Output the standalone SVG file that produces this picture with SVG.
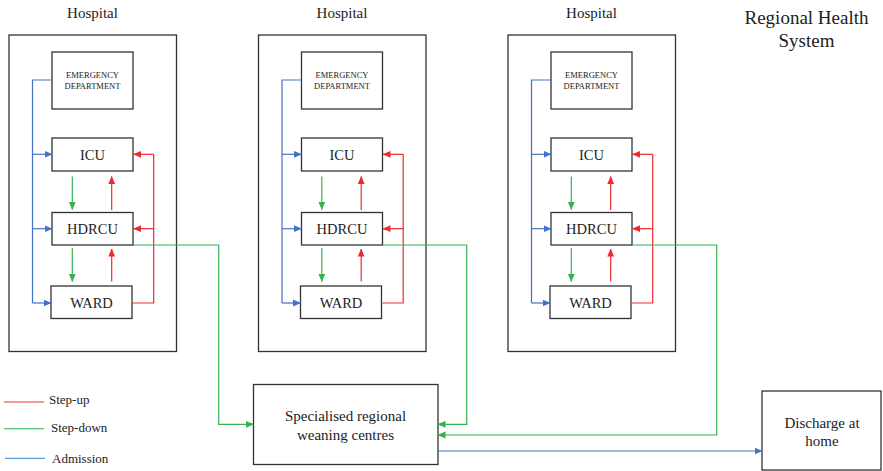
<svg xmlns="http://www.w3.org/2000/svg" width="883" height="471" viewBox="0 0 883 471">
  <style>
    .box { fill: #fff; stroke: #333; stroke-width: 1.3; }
    .frame { fill: none; stroke: #333; stroke-width: 1.3; }
    .t { font-family: "Liberation Serif", "Times New Roman", serif; fill: #222; text-anchor: middle; }
    .unit { font-size: 14.5px; }
    .ed { font-size: 8.5px; }
    .lg { font-family: "Liberation Serif", "Times New Roman", serif; fill: #222; font-size: 13px; }
    .up { fill: none; stroke: #ee2a2e; stroke-width: 1.2; }
    .down { fill: none; stroke: #34b24f; stroke-width: 1.2; }
    .adm { fill: none; stroke: #4472c4; stroke-width: 1.2; }
    .up-a { marker-end: url(#mUp); }
    .down-a { marker-end: url(#mDown); }
    .adm-a { marker-end: url(#mAdm); }
  </style>
  <defs>
    <marker id="mUp" markerUnits="userSpaceOnUse" markerWidth="8" markerHeight="8" viewBox="0 0 8 8" refX="7.5" refY="4" orient="auto">
      <path d="M0,0.6 L8,4 L0,7.4 Z" fill="#ee2a2e"/>
    </marker>
    <marker id="mDown" markerUnits="userSpaceOnUse" markerWidth="8" markerHeight="8" viewBox="0 0 8 8" refX="7.5" refY="4" orient="auto">
      <path d="M0,0.6 L8,4 L0,7.4 Z" fill="#34b24f"/>
    </marker>
    <marker id="mAdm" markerUnits="userSpaceOnUse" markerWidth="8" markerHeight="8" viewBox="0 0 8 8" refX="7.5" refY="4" orient="auto">
      <path d="M0,0.6 L8,4 L0,7.4 Z" fill="#4472c4"/>
    </marker>

    <!-- one hospital: frame, units and internal flows -->
    <g id="hospitalTpl">
      <text class="t" x="92.5" y="18" font-size="15">Hospital</text>
      <rect class="frame" x="9" y="35" width="167.5" height="316.5"/>
      <rect class="box" x="52" y="52" width="81" height="57"/>
      <text class="t ed" x="92.5" y="77.5">EMERGENCY</text>
      <text class="t ed" x="92.5" y="89">DEPARTMENT</text>
      <rect class="box" x="52" y="138" width="81" height="33"/>
      <text class="t unit" x="92.5" y="160">ICU</text>
      <rect class="box" x="52" y="212.5" width="81" height="32.5"/>
      <text class="t unit" x="92.5" y="234">HDRCU</text>
      <rect class="box" x="51" y="286" width="81" height="32.5"/>
      <text class="t unit" x="91.5" y="308">WARD</text>
      <!-- admission from ED -->
      <path class="adm" d="M52,80 H32.5 V303"/>
      <path class="adm adm-a" d="M32.5,154.3 H52"/>
      <path class="adm adm-a" d="M32.5,228.7 H52"/>
      <path class="adm adm-a" d="M32.5,303 H51"/>
      <!-- step-down -->
      <path class="down down-a" d="M72.3,176.5 V209.5"/>
      <path class="down down-a" d="M72.3,248 V281.5"/>
      <!-- step-up -->
      <path class="up up-a" d="M111.7,210 V176.5"/>
      <path class="up up-a" d="M111.7,281.5 V249"/>
      <path class="up" d="M133,303 H153.7 V154.3"/>
      <path class="up up-a" d="M153.7,154.3 H133.5"/>
      <path class="up up-a" d="M153.7,228.7 H133.5"/>
    </g>
  </defs>

  <g id="hospital-1"><use href="#hospitalTpl"/></g>
  <g id="hospital-2"><use href="#hospitalTpl" transform="translate(249.5,0)"/></g>
  <g id="hospital-3"><use href="#hospitalTpl" transform="translate(499,0)"/></g>

  <g id="regional-title">
    <text class="t" x="806.5" y="24" font-size="19">Regional Health</text>
    <text class="t" x="806.5" y="47" font-size="19">System</text>
  </g>

  <g id="weaning-centres">
    <rect class="box" x="253.5" y="384.5" width="184.5" height="80"/>
    <text class="t" x="345.5" y="421" font-size="15">Specialised regional</text>
    <text class="t" x="345.5" y="439.5" font-size="15">weaning centres</text>
  </g>

  <g id="discharge">
    <rect class="box" x="762" y="391" width="119" height="79"/>
    <text class="t" x="822" y="428" font-size="15">Discharge at</text>
    <text class="t" x="822" y="446" font-size="15">home</text>
  </g>

  <g id="connectors">
    <path class="down down-a" d="M133,245 H218.7 V424.3 H253.5"/>
    <path class="down down-a" d="M382.5,245 H466.7 V424.3 H438"/>
    <path class="down down-a" d="M632,245 H716.7 V435 H438"/>
    <path class="adm adm-a" d="M438,451 H762"/>
  </g>

  <g id="legend">
    <line x1="4" y1="402" x2="44" y2="402" stroke="#f07a7c" stroke-width="1.3"/>
    <text class="lg" x="49" y="404">Step-up</text>
    <line x1="4" y1="428.7" x2="44" y2="428.7" stroke="#5cc474" stroke-width="1.3"/>
    <text class="lg" x="51" y="432">Step-down</text>
    <line x1="5" y1="458.3" x2="45" y2="458.3" stroke="#5b9bd5" stroke-width="1.3"/>
    <text class="lg" x="52" y="462.5">Admission</text>
  </g>
</svg>
